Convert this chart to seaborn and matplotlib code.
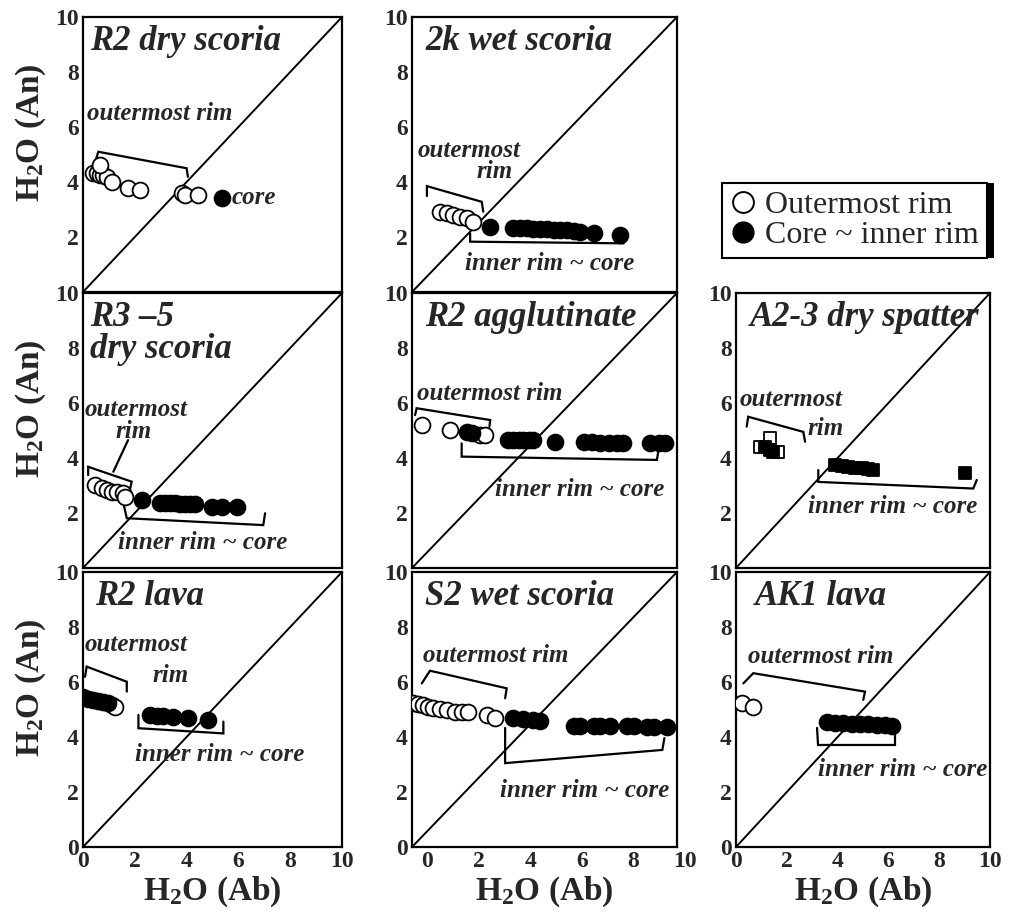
import matplotlib
matplotlib.use("Agg")
import matplotlib.pyplot as plt
import seaborn as sns
from matplotlib.lines import Line2D
from matplotlib.patches import Rectangle

sns.set_style("white")
plt.rcParams['font.family'] = ['Liberation Serif', 'DejaVu Serif']
plt.rcParams['mathtext.fontset'] = 'custom'
plt.rcParams['mathtext.rm'] = 'Liberation Serif:bold'
plt.rcParams['mathtext.bf'] = 'Liberation Serif:bold'
plt.rcParams['mathtext.it'] = 'Liberation Serif:bold'

# ---------------- data ----------------
r2dry_open_x = [0.40, 0.53, 0.66, 0.78, 0.91, 0.66, 1.11, 1.75, 2.20, 3.81, 3.94, 4.45]
r2dry_open_y = [4.32, 4.32, 4.25, 4.25, 4.19, 4.62, 4.01, 3.77, 3.71, 3.59, 3.53, 3.53]
r2dry_fill_x = [5.35]
r2dry_fill_y = [3.41]

wet2k_open_x = [0.49, 0.75, 1.01, 1.27, 1.53, 1.79]
wet2k_open_y = [2.92, 2.86, 2.80, 2.74, 2.68, 2.56]
wet2k_fill_x = [2.43, 3.34, 3.60, 3.86, 4.12, 4.38, 4.64, 4.90, 5.16, 5.42, 5.68, 5.94, 6.46, 7.49]
wet2k_fill_y = [2.38, 2.32, 2.31, 2.31, 2.30, 2.29, 2.28, 2.27, 2.26, 2.25, 2.22, 2.20, 2.13, 2.07]

r35_open_x = [0.46, 0.72, 0.92, 1.11, 1.30, 1.56, 1.62]
r35_open_y = [3.02, 2.90, 2.84, 2.77, 2.77, 2.72, 2.59]
r35_fill_x = [2.27, 2.97, 3.17, 3.36, 3.55, 3.75, 3.94, 4.13, 4.32, 4.97, 5.36, 5.93]
r35_fill_y = [2.47, 2.36, 2.36, 2.35, 2.35, 2.34, 2.34, 2.33, 2.33, 2.23, 2.23, 2.21]

aggl_open_x = [-0.22, 0.88, 2.05, 2.24]
aggl_open_y = [5.20, 5.02, 4.84, 4.84]
aggl_fill_x = [1.53, 1.72, 3.15, 3.34, 3.54, 3.73, 3.93, 4.12, 4.96, 6.07, 6.39, 6.72, 7.04, 7.37, 7.62, 8.66, 8.99, 9.25]
aggl_fill_y = [4.96, 4.90, 4.65, 4.65, 4.65, 4.65, 4.65, 4.65, 4.59, 4.59, 4.58, 4.56, 4.55, 4.54, 4.53, 4.53, 4.53, 4.53]

a23_open_x = [1.34, 0.94, 1.67]
a23_open_y = [4.72, 4.41, 4.23]
a23_fill_x = [1.14, 1.34, 1.47, 3.90, 4.16, 4.42, 4.69, 4.95, 5.21, 5.41, 9.02]
a23_fill_y = [4.41, 4.29, 4.23, 3.75, 3.71, 3.68, 3.65, 3.62, 3.60, 3.56, 3.44]

r2lava_open_x = [1.11, 1.24]
r2lava_open_y = [5.16, 5.10]
r2lava_fill_x = [0.01, 0.20, 0.40, 0.59, 0.78, 0.98, 2.59, 2.85, 3.10, 3.49, 4.07, 4.84]
r2lava_fill_y = [5.47, 5.40, 5.36, 5.32, 5.28, 5.25, 4.80, 4.78, 4.76, 4.74, 4.68, 4.62]

s2_open_x = [-0.55, -0.35, -0.16, 0.03, 0.23, 0.49, 0.75, 1.07, 1.33, 1.59, 2.31, 2.63]
s2_open_y = [5.23, 5.20, 5.16, 5.10, 5.05, 5.01, 4.98, 4.92, 4.92, 4.92, 4.80, 4.68]
s2_fill_x = [3.34, 3.73, 4.12, 4.38, 5.68, 5.94, 6.46, 6.72, 7.10, 7.75, 8.01, 8.53, 8.79, 9.31]
s2_fill_y = [4.68, 4.65, 4.62, 4.59, 4.40, 4.40, 4.40, 4.40, 4.40, 4.40, 4.40, 4.36, 4.36, 4.36]

ak1_open_x = [0.22, 0.68]
ak1_open_y = [5.23, 5.10]
ak1_fill_x = [3.57, 3.90, 4.22, 4.56, 4.88, 5.21, 5.54, 5.87, 6.13]
ak1_fill_y = [4.56, 4.52, 4.50, 4.47, 4.47, 4.46, 4.44, 4.44, 4.41]

tick_values = [0, 2, 4, 6, 8, 10]
legend_labels = ["Outermost rim", "Core ~ inner rim"]

# ---------------- layout ----------------
W, H = 1015, 914
fig = plt.figure(figsize=(W / 100, H / 100), dpi=100)
cols = [(83, 342), (412, 677), (736, 990)]
rows = [(17, 292), (293, 568), (572, 847)]
col_xlim = [(0, 10), (-0.6, 9.7), (0, 10)]

TXT = dict(fontsize=18, fontweight='bold', fontstyle='italic', family='Liberation Serif')
TITLE = dict(fontsize=25, fontweight='bold', fontstyle='italic', family='Liberation Serif')
TICKSIZE = 17


def make_ax(r, c):
    l, rr = cols[c]
    t, b = rows[r]
    ax = fig.add_axes([l / W, 1 - b / H, (rr - l) / W, (b - t) / H])
    for s in ax.spines.values():
        s.set_linewidth(1.6)
        s.set_color('black')
    ax.set_xticks(tick_values)
    ax.set_yticks(tick_values)
    ax.set_xlim(*col_xlim[c])
    ax.set_ylim(0, 10)
    ax.tick_params(direction='in', length=5, width=1.3, labelsize=TICKSIZE, pad=3)
    ylabels = [str(v) for v in tick_values]
    if r < 2:
        ylabels[0] = ''
        ax.set_xticklabels([])
    ax.set_yticklabels(ylabels)
    for lab in ax.get_yticklabels() + ax.get_xticklabels():
        lab.set_fontweight('bold')
    ax.plot([0, 1], [0, 1], transform=ax.transAxes, color='black', lw=1.4, zorder=1)
    if c == 0:
        ax.set_ylabel(r"H$_2$O (An)", fontsize=24, fontweight='bold')
        ax.yaxis.set_label_coords(-0.135, 0.58)
    if r == 2:
        ax.set_xlabel(r"H$_2$O (Ab)", fontsize=24, fontweight='bold', labelpad=2)
    return ax


def pts(ax, ox, oy, fx, fy, marker='o', s=130):
    sns.scatterplot(x=ox, y=oy, ax=ax, marker=marker, s=s, color='white',
                    edgecolor='black', linewidth=1.3, legend=False, zorder=3)
    sns.scatterplot(x=fx, y=fy, ax=ax, marker=marker, s=s, color='black',
                    edgecolor='black', linewidth=1.3, legend=False, zorder=4)


def bracket(ax, xs, ys):
    ax.plot(xs, ys, color='black', lw=1.6, zorder=2, solid_joinstyle='miter')


# R2 dry scoria
ax = make_ax(0, 0)
pts(ax, r2dry_open_x, r2dry_open_y, r2dry_fill_x, r2dry_fill_y)
ax.text(0.27, 9.1, "R2 dry scoria", va='center', **TITLE)
ax.text(0.15, 6.5, "outermost rim", va='center', **TXT)
bracket(ax, [0.46, 0.59, 4.00, 4.05], [4.69, 5.10, 4.50, 4.19])
ax.text(5.75, 3.45, "core", va='center', **TXT)

# 2k wet scoria
ax = make_ax(0, 1)
pts(ax, wet2k_open_x, wet2k_open_y, wet2k_fill_x, wet2k_fill_y)
ax.text(-0.09, 9.1, "2k wet scoria", va='center', **TITLE)
ax.text(-0.37, 5.16, "outermost", va='center', **TXT)
ax.text(2.63, 4.4, "rim", va='center', ha='center', **TXT)
bracket(ax, [-0.02, -0.02, 2.11, 2.17], [3.49, 3.85, 3.28, 2.92])
bracket(ax, [1.66, 1.66, 7.62, 7.69], [2.13, 1.83, 1.77, 2.01])
ax.text(1.46, 1.05, "inner rim ~ core", va='center', **TXT)

# R3-5 dry scoria
ax = make_ax(1, 0)
pts(ax, r35_open_x, r35_open_y, r35_fill_x, r35_fill_y)
ax.text(0.27, 9.1, "R3 \u20135", va='center', **TITLE)
ax.text(0.27, 7.95, "dry scoria", va='center', **TITLE)
ax.text(0.08, 5.75, "outermost", va='center', **TXT)
ax.text(1.24, 4.95, "rim", va='center', **TXT)
bracket(ax, [0.20, 0.20, 1.88, 1.81], [3.38, 3.68, 3.14, 2.84])
bracket(ax, [1.17, 1.74], [3.50, 4.65])
bracket(ax, [1.56, 1.69, 6.96, 7.03], [2.35, 1.81, 1.56, 1.99])
ax.text(1.35, 0.91, "inner rim ~ core", va='center', **TXT)

# R2 agglutinate
ax = make_ax(1, 1)
pts(ax, aggl_open_x, aggl_open_y, aggl_fill_x, aggl_fill_y)
ax.text(-0.09, 9.1, "R2 agglutinate", va='center', **TITLE)
ax.text(-0.41, 6.36, "outermost rim", va='center', **TXT)
bracket(ax, [-0.48, -0.42, 2.44, 2.41], [5.56, 5.81, 5.38, 5.14])
bracket(ax, [1.33, 1.33, 8.92, 8.98], [4.53, 4.05, 3.93, 4.29])
ax.text(2.63, 2.84, "inner rim ~ core", va='center', **TXT)

# A2-3 dry spatter
ax = make_ax(1, 2)
pts(ax, a23_open_x, a23_open_y, a23_fill_x, a23_fill_y, marker='s', s=65)
ax.text(0.55, 9.1, "A2-3 dry spatter", va='center', **TITLE)
ax.text(0.16, 6.11, "outermost", va='center', **TXT)
ax.text(2.83, 5.09, "rim", va='center', **TXT)
bracket(ax, [0.42, 0.48, 2.65, 2.72], [5.14, 5.50, 4.95, 4.59])
bracket(ax, [3.24, 3.24, 9.34, 9.48], [3.56, 3.13, 2.89, 3.20])
ax.text(2.83, 2.22, "inner rim ~ core", va='center', **TXT)

# R2 lava
ax = make_ax(2, 0)
pts(ax, r2lava_open_x, r2lava_open_y, r2lava_fill_x, r2lava_fill_y)
ax.text(0.46, 9.1, "R2 lava", va='center', **TITLE)
ax.text(0.08, 7.35, "outermost", va='center', **TXT)
ax.text(2.70, 6.25, "rim", va='center', **TXT)
bracket(ax, [0.08, 0.14, 1.69, 1.69], [6.19, 6.56, 6.01, 5.65])
bracket(ax, [2.14, 2.14, 5.42, 5.42], [4.80, 4.32, 4.13, 4.56])
ax.text(2.0, 3.38, "inner rim ~ core", va='center', **TXT)

# S2 wet scoria
ax = make_ax(2, 1)
pts(ax, s2_open_x, s2_open_y, s2_fill_x, s2_fill_y)
ax.text(-0.09, 9.1, "S2 wet scoria", va='center', **TITLE)
ax.text(-0.17, 6.98, "outermost rim", va='center', **TXT)
bracket(ax, [-0.22, 0.10, 3.08, 3.02], [5.95, 6.41, 5.77, 5.41])
bracket(ax, [3.02, 3.02, 9.13, 9.21], [4.33, 3.05, 3.53, 3.96])
ax.text(2.82, 2.07, "inner rim ~ core", va='center', **TXT)
ax.text(10, -0.015, "10", transform=ax.get_xaxis_transform(), ha='center', va='top',
        fontsize=TICKSIZE, fontweight='bold', clip_on=False)

# AK1 lava
ax = make_ax(2, 2)
pts(ax, ak1_open_x, ak1_open_y, ak1_fill_x, ak1_fill_y)
ax.text(0.75, 9.1, "AK1 lava", va='center', **TITLE)
ax.text(0.47, 6.91, "outermost rim", va='center', **TXT)
bracket(ax, [0.29, 0.68, 5.08, 5.01], [5.95, 6.32, 5.65, 5.35])
bracket(ax, [3.19, 3.23, 6.26, 6.26], [4.33, 3.71, 3.71, 4.33])
ax.text(3.23, 2.8, "inner rim ~ core", va='center', **TXT)

# legend
handles = [Line2D([], [], marker='o', ls='', markersize=15, markerfacecolor='white',
                  markeredgecolor='black', markeredgewidth=1.4),
           Line2D([], [], marker='o', ls='', markersize=15, markerfacecolor='black',
                  markeredgecolor='black')]
leg = fig.legend(handles, legend_labels, loc='upper left', bbox_to_anchor=(722 / W, 1 - 183 / H),
                 frameon=True, fancybox=False, edgecolor='black', framealpha=1,
                 borderaxespad=0, handletextpad=0.3, handlelength=0.8, labelspacing=0.0,
                 borderpad=0.25, prop={'family': 'Liberation Serif', 'size': 23})
leg.get_frame().set_linewidth(1.5)
fig.canvas.draw()
bb = leg.get_window_extent().transformed(fig.transFigure.inverted())
fig.add_artist(Rectangle((bb.x1 - 0.0005, bb.y0), 8 / W, bb.height, transform=fig.transFigure,
                         facecolor='black', edgecolor='none'))

fig.savefig("out.png", dpi=100)
